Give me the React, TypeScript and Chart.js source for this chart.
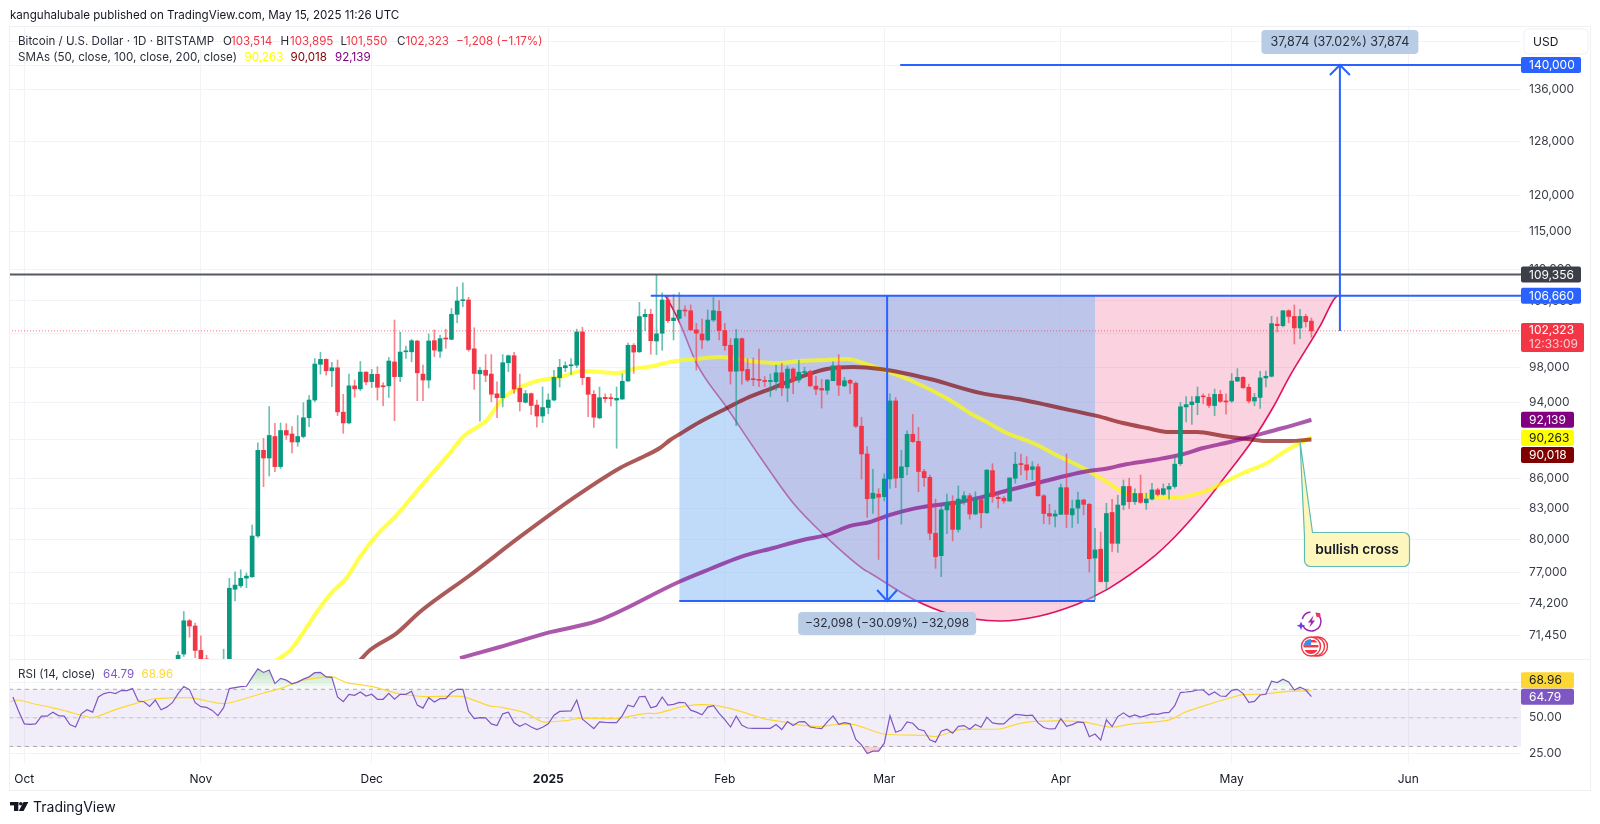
import React, { useEffect, useRef } from "react";
import { Chart, registerables } from "chart.js";

Chart.register(...registerables);

// days are counted from 1 Oct 2024, so a chart x of 92 is 1 Jan 2025
const firstCandleDay = 27;

const opens = [
	68000, 69900, 72700, 72250, 70200, 69500, 69100, 68000, 67800, 69350,
	75450, 75760, 76450, 76570, 80340, 88880, 88080, 90340, 87190, 90980,
	90610, 89760, 90340, 92360, 94310, 98370, 98940, 97620, 97970, 92970,
	91800, 95900, 95560, 97470, 96380, 97210, 95860, 95900, 98640, 96950,
	99830, 99830, 101100, 97240, 96560, 101150, 99900, 101390, 101310, 104340,
	106030, 106120, 100180, 97270, 97680, 97240, 95000, 94570, 98550, 99370,
	95620, 94060, 95020, 93750, 92550, 93480, 94310, 96830, 97970, 98200,
	98270, 102200, 96860, 94950, 92350, 94610, 94500, 94310, 94430, 96450,
	100600, 99830, 104060, 104340, 101110, 102040, 106120, 103560, 103850, 104860,
	104780, 102450, 101950, 101230, 103640, 104700, 102370, 100600, 97570, 101390,
	97770, 96640, 96560, 96440, 96400, 96370, 97390, 95660, 97820, 96560,
	97420, 97530, 95860, 95600, 95400, 96480, 98200, 95900, 96520, 96200,
	91440, 88500, 83980, 84400, 84150, 85930, 94210, 86060, 87170, 90580,
	89830, 86690, 86100, 80600, 78500, 82850, 83700, 80970, 83660, 84250,
	82450, 83860, 82570, 86780, 84090, 84000, 83730, 86000, 87440, 87370,
	86900, 87170, 84240, 82500, 82250, 82420, 85050, 82370, 83030, 83820,
	83400, 78280, 79100, 76140, 82600, 79650, 83330, 85170, 83660, 84470,
	83550, 83920, 84830, 84380, 84900, 85170, 87490, 93550, 93800, 94020,
	94700, 94600, 93700, 94950, 94200, 94200, 96440, 96870, 95740, 94200,
	94600, 96800, 96990, 103140, 102950, 104780, 104080, 102680, 104080, 103514,
];
const highs = [
	70100, 73500, 72820, 72500, 71420, 69800, 69300, 69000, 70300, 76430,
	77020, 77200, 76900, 81380, 89670, 90150, 93600, 91750, 91800, 91720,
	91400, 92600, 94020, 94820, 99040, 99780, 99000, 98600, 98870, 94950,
	97240, 96560, 98700, 97500, 97780, 98090, 96260, 99170, 103640, 102170,
	100500, 101300, 101200, 98270, 101950, 102450, 101830, 102530, 105060, 107760,
	108300, 106460, 102700, 98020, 99500, 99500, 96370, 99500, 99450, 99780,
	97240, 95390, 95100, 94310, 95770, 95000, 97680, 98950, 98660, 99040,
	102530, 102750, 96900, 95380, 95770, 95010, 95000, 95770, 97250, 100860,
	100800, 105830, 104970, 104970, 109300, 107000, 106580, 106800, 107060, 105400,
	105500, 103240, 103750, 104860, 106440, 106030, 103240, 101390, 102520, 101500,
	99020, 99100, 100150, 96950, 97240, 98270, 98470, 98140, 97950, 98870,
	98030, 97700, 96950, 96640, 96640, 98660, 99500, 96880, 96640, 96370,
	92420, 89270, 86900, 84950, 86440, 95000, 94600, 88890, 90940, 92730,
	91320, 86900, 86330, 83920, 83250, 84400, 84250, 85230, 84650, 84470,
	84650, 83900, 86900, 87490, 84440, 84160, 86050, 88680, 88500, 88220,
	87700, 87440, 84350, 83400, 82800, 85420, 88500, 83820, 84600, 83900,
	83500, 81080, 80720, 83500, 83900, 84300, 85830, 86000, 84930, 86330,
	84500, 85500, 85000, 85430, 85500, 88220, 94050, 94700, 94700, 95770,
	95000, 95000, 95530, 95400, 95000, 97300, 97870, 96950, 96100, 95050,
	97570, 97600, 104100, 104000, 104800, 104900, 105500, 104950, 104350, 103895,
];
const lows = [
	67600, 69700, 71300, 69600, 68800, 68000, 67500, 66800, 67500, 68800,
	74410, 75600, 75590, 76500, 80200, 85150, 86230, 86680, 87000, 90040,
	88600, 89300, 90200, 91400, 94120, 97240, 97130, 95800, 92600, 90680,
	91700, 94620, 95370, 96000, 95700, 94310, 93680, 94590, 92040, 96370,
	99040, 98660, 94240, 94240, 95660, 99260, 99180, 100250, 101250, 103310,
	105300, 99900, 95500, 92000, 96370, 94120, 92360, 93550, 97520, 95040,
	93090, 93980, 92690, 91350, 91840, 92800, 94200, 95770, 97530, 97200,
	97970, 96040, 92470, 91310, 92240, 94050, 93650, 89100, 94350, 96400,
	97320, 99750, 102350, 99550, 99500, 100000, 103320, 101230, 103700, 104100,
	102400, 97700, 100190, 101100, 103450, 101230, 100000, 96100, 91500, 96100,
	96370, 95920, 95820, 95820, 94690, 95380, 94810, 94130, 95010, 96300,
	97120, 95820, 94900, 93420, 94950, 96480, 94820, 95800, 95010, 91300,
	85930, 82130, 82500, 78150, 83730, 84970, 85050, 81460, 86330, 89700,
	84650, 85170, 79960, 77330, 76580, 80560, 79880, 80720, 83400, 81950,
	82370, 81120, 82500, 83600, 83030, 83500, 83680, 85500, 86330, 85830,
	85830, 84200, 81530, 81460, 81200, 82380, 81120, 81150, 81530, 82360,
	77000, 74500, 76100, 75370, 78900, 78800, 82860, 83000, 83400, 83500,
	82900, 83800, 84230, 84300, 83900, 85000, 87290, 91920, 91640, 92690,
	93900, 93500, 92600, 94040, 92750, 94050, 96370, 95600, 94000, 93680,
	93390, 95780, 96900, 102200, 102800, 103300, 100750, 101400, 102790, 101550,
];
const closes = [
	69800, 72700, 72250, 70200, 69500, 69100, 68000, 67800, 69350, 75540,
	75820, 76430, 76630, 80340, 88880, 88080, 90450, 87190, 90980, 90500,
	89760, 90340, 92360, 94310, 98400, 98940, 97620, 97970, 93000, 91800,
	95900, 95560, 97470, 96340, 97210, 95740, 95800, 98750, 96950, 99800,
	99900, 101140, 97390, 96560, 101110, 100030, 101390, 101350, 104340, 106000,
	106150, 100100, 97310, 97680, 97100, 94960, 94570, 98550, 99370, 95540,
	94120, 95020, 93710, 92550, 93480, 94310, 96870, 98020, 98200, 98270,
	102200, 96830, 94950, 92420, 94570, 94460, 94460, 94500, 96420, 100600,
	99800, 104060, 104340, 101150, 101970, 106120, 103560, 103890, 104860, 104750,
	102440, 102050, 101230, 103640, 104780, 102370, 100560, 97570, 101390, 97610,
	96560, 96600, 96530, 96400, 96450, 97390, 95660, 97820, 96480, 97450,
	97530, 95900, 95520, 95430, 96560, 98200, 95980, 96480, 96200, 91440,
	88500, 83950, 84500, 84100, 85930, 94210, 86000, 87170, 90580, 89800,
	86690, 86060, 80600, 78400, 82860, 83600, 80970, 83920, 84250, 82450,
	83960, 82570, 86830, 84160, 83960, 83730, 86030, 87440, 87400, 86830,
	87170, 84240, 82500, 82250, 82450, 85050, 82420, 82970, 83820, 83390,
	78220, 79030, 76140, 82500, 79650, 83330, 85170, 83660, 84470, 83600,
	83920, 84830, 84380, 84950, 85170, 87440, 93560, 93800, 94100, 94700,
	94660, 93720, 94950, 94160, 94100, 96440, 96870, 95690, 94200, 94600,
	96800, 96990, 103200, 102950, 104780, 104080, 102680, 104080, 103430, 102323,
];

const sma50Days = [
	44, 46.7, 48.9, 51.4, 53.7, 56.7, 58.9, 61.9, 65.4, 69.5, 74.7, 77, 81.2, 84.1, 87.6, 90, 94, 98.1, 104.1, 106.9, 110.4,
	113.4, 118.1, 122.2, 126.2, 132.1, 136.2, 140.9, 144.5, 146.7, 150.3, 155.5, 162.5, 166, 169, 172.5, 177.1, 181.9, 185.9,
	190.1, 192.9, 197.1, 201.7, 207, 210.5, 214, 218.2, 221.7, 226,
];
const sma50Values = [
	69300, 70230, 71650, 73480, 75010, 76550, 78370, 80440, 82360, 85110, 88590, 90290, 92116, 94540, 95900, 96450, 96900, 97600,
	97360, 97830, 98180, 98640, 98990, 99220, 98870, 98520, 98750, 98870, 98990, 98640, 97830, 96564, 94313, 92880, 91900,
	90720, 89650, 88190, 87050, 85620, 84630, 84230, 84030, 84630, 85520, 86540, 87570, 88910, 90263,
];
const sma100Days = [
	58.8, 60.7, 65.4, 69.5, 78.3, 87, 96.7, 104.6, 109.3, 111.6, 113.4, 115.1, 118.6, 123.4, 126.9, 131.5, 136.2, 140.9, 145.5,
	150.3, 159, 167.8, 175.4, 179.6, 183.6, 188.3, 192.9, 197.1, 200.7, 205.9, 210.5, 214.7, 218.2, 222.2, 226,
];
const sma100Values = [
	69300, 70230, 71650, 73480, 76730, 80250, 84130, 87050, 88390, 89120, 89969, 90610, 91900, 93430, 94540, 95680, 96900, 97830,
	98060, 97830, 96680, 95110, 94313, 93760, 93200, 92560, 91790, 91250, 90830, 90830, 90400, 90080, 89865, 89865, 90018,
];
const sma200Days = [
	76.5, 83.5, 92.5, 100.6, 114.9, 120.4, 125.7, 131.5, 136.7, 140.9, 145, 148.5, 152, 156, 160.3, 164.3, 168.3, 173,
	177.8, 181.3, 185.9, 190.6, 192.9, 198.2, 202.9, 207, 211.7, 216.4, 221, 226,
];
const sma200Values = [
	69570, 70480, 71746, 72680, 76100, 77275, 78370, 79215, 79962, 80440, 81300, 81680, 82360, 82950, 83330, 83630, 84130,
	84820, 85520, 86030, 86640, 87050, 87360, 87872, 88390, 89120, 89760, 90500, 91250, 92139,
];

const cupDays = [
	112.5, 112.8, 115.1, 118.1, 123.4, 129.2, 135, 140.6, 147.3, 148.5, 156, 162.5, 171.3, 178.3, 184.5, 187.6, 190.6,
	197.6, 202, 206.7, 210.4, 215.7, 219.2, 222.2, 227.5, 230, 230.6,
];
const cupValues = [
	106660, 106370, 103270, 98400, 93430, 88190, 83530, 80350, 77275, 76910, 74590, 73280, 72680, 73110, 74060, 74770,
	75570, 78100, 80250, 83130, 85820, 89970, 93430, 97010, 102890, 106240, 106660,
];

// 1 Oct minus 2 days up to the last session, 15 May
const rsiFirstDay = -2;
const rsiValues = [
	64.6, 54.7, 45.8, 45.5, 45.8, 51.2, 51.2, 54, 51.6, 51.2, 45.3, 43.6, 52.8, 55.7, 54, 64.6, 67, 67.9, 67, 69.1,
	69.1, 70.5, 61.8, 61.3, 58, 62.5, 55.7, 57.5, 60.6, 67, 71.9, 69.8, 60.6, 57.8, 57.3, 55.2, 51.6, 57.1, 70.5, 71.2,
	71.9, 72.1, 78.3, 84.4, 81.8, 83.5, 74, 77.6, 76.4, 73.8, 75, 77.1, 78.7, 81.6, 81.8, 78.7, 78.3, 64.6, 61.3, 66.5,
	65.8, 68.1, 65.3, 66.5, 63, 63, 67.2, 63, 66.5, 66.5, 68.6, 58.9, 56.8, 64.1, 61.1, 63.4, 63.4, 67.7, 70, 70,
	54.7, 49.5, 50.2, 50, 45.8, 44.6, 52.8, 54, 46.5, 44.1, 46, 43.6, 41.8, 43.4, 45.8, 51.9, 54.5, 54.7, 54.9, 62.5,
	49.1, 45.8, 42.5, 47.2, 46.9, 46.7, 46.7, 51.6, 58.9, 57.8, 64.8, 65.1, 57.1, 58.2, 64.6, 58.9, 59.4, 60.8, 60.6, 55.4,
	54, 52.1, 57.5, 58.5, 53.1, 48.8, 43.6, 51.2, 44.8, 42.9, 42.7, 42.7, 42.7, 42.7, 45.3, 41.8, 47.4, 44.6, 47.2, 47.4,
	43.6, 42.9, 42.5, 47.2, 51.4, 45.5, 46.7, 45.8, 34.9, 31.1, 25, 26.7, 26.7, 32.3, 51.4, 39.9, 41.5, 47.2, 46.2, 42,
	41, 34.7, 33, 40.6, 42, 39.2, 44.1, 44.6, 42, 45.3, 43.4, 50.5, 46.5, 45.8, 45.8, 49.5, 52.4, 52.1, 51.6, 51.9,
	46.5, 43.2, 42.2, 42.5, 49.5, 44.1, 45.3, 47.2, 46.7, 36.8, 38.7, 34.4, 48.6, 43.9, 50.9, 53.5, 50.7, 52.1, 50.5, 51.6,
	52.8, 52.4, 53.5, 53.8, 58.5, 67.7, 68.1, 68.6, 69.5, 69.5, 66, 68.1, 65.3, 65.1, 69.3, 70, 67, 60.8, 61.5, 66,
	66.5, 75.7, 74.7, 77.1, 75.2, 69.5, 71.4, 69.5, 64.79,
];
const rsiMaDays = [
	-2.5, -1, 1.6, 4.5, 7.4, 12, 15.6, 19, 22.6, 29, 34.4, 36.7, 42, 45.5, 48.4, 52.8, 54.3, 56.6, 61.3, 66, 70.7, 77, 81.8,
	83.6, 88, 91, 95.2, 97.6, 104, 107, 109.3, 111, 115.7, 118.6, 121, 125, 129.8, 133.8, 136, 139.7, 142, 145.6, 150.8, 158,
	160.2, 164.3, 171.3, 174.5, 177.6, 185.8, 190, 191.4, 194.5, 200.2, 202, 203.3, 206.4, 211.5, 214, 217.7, 221.5, 226,
];
const rsiMaValues = [
	61.3, 62.5, 59.9, 57.5, 54.7, 50.2, 55.2, 59.4, 63.2, 64.1, 60.1, 61.1, 67.4, 71.2, 75.9, 78.7, 78.5, 74.7, 71.7, 66.7,
	64.9, 64.9, 58.2, 57.5, 53.5, 47.2, 48.1, 49.8, 49.5, 51.6, 53.1, 53.1, 58, 59.2, 58.9, 55.4, 49.5, 46.9, 45.1, 43.9,
	45.1, 45.5, 38.7, 37.7, 37, 41.8, 42.2, 45.8, 47.6, 47.2, 43.9, 43.6, 45.8, 47.9, 50, 53.1, 57.5, 63.7, 66.2, 66.7, 68.4,
	68.96,
];

const priceTicks = [144000, 140000, 136000, 128000, 120000, 115000, 110000, 106000, 102000, 98000, 94000, 90000, 86000, 83000, 80000, 77000, 74200, 71450];
const rsiTicks = [25, 50, 75];
const monthDays = [0, 31, 61, 92, 123, 151, 182, 212, 243];
const monthLabels = ["Oct", "Nov", "Dec", "2025", "Feb", "Mar", "Apr", "May", "Jun"];

const lastClose = 102323;
const resistance = 109356;
const neckline = 106660;
const target = 140000;
const rangeLow = 74410;
const rangeStartDay = 115;
const rangeEndDay = 188;
const dropDay = 151.5;
const riseDay = 231;
const crossDay = 224;
const crossPrice = 90263;

const xMin = -2.69;
const xMax = 262.8;
const yMin = 69493;
const yMax = 146590;

const GREEN = "#089981";
const RED = "#f23645";
const BLUE = "#2962ff";
const FONT = "Inter";
const SMALL = `11.6px ${FONT}`;

const line = (xs: number[], ys: number[], yAxisID: string, extra: any) => ({
	type: "line",
	data: xs.map((x, k) => ({ x, y: ys[k] })),
	yAxisID,
	xAxisID: "x",
	pointRadius: 0,
	fill: false,
	...extra,
});

const text = (ctx: CanvasRenderingContext2D, s: string, x: number, y: number, color: string, font = `12px ${FONT}`, align: CanvasTextAlign = "left") => {
	ctx.font = font;
	ctx.fillStyle = color;
	ctx.textAlign = align;
	ctx.textBaseline = "middle";
	ctx.fillText(s, x, y);
};

const box = (ctx: CanvasRenderingContext2D, x: number, y: number, w: number, h: number, r: number, fill: string) => {
	ctx.beginPath();
	ctx.roundRect(x, y, w, h, r);
	ctx.fillStyle = fill;
	ctx.fill();
};

const overlay = {
	id: "overlay",
	afterDraw(chart: any) {
		const { ctx, scales } = chart;
		const { x, y, rsi } = scales;
		const right = chart.chartArea.right;
		ctx.save();

		// frame around both panes
		ctx.strokeStyle = "#eef0f4";
		ctx.lineWidth = 1;
		ctx.strokeRect(9.5, 26.5, 1581, 764);
		ctx.beginPath();
		ctx.moveTo(9, 659.5);
		ctx.lineTo(1590, 659.5);
		ctx.stroke();

		// header
		text(ctx, "kanguhalubale published on TradingView.com, May 15, 2025 11:26 UTC", 10, 15.5, "#131722", SMALL);
		const dark = "#2a2e39";
		const row1 = 42;
		const row2 = 58;
		text(ctx, "Bitcoin / U.S. Dollar · 1D · BITSTAMP", 18, row1, dark, SMALL);
		text(ctx, "O", 223, row1, dark, SMALL);
		text(ctx, "103,514", 231, row1, RED, SMALL);
		text(ctx, "H", 280.5, row1, dark, SMALL);
		text(ctx, "103,895", 290, row1, RED, SMALL);
		text(ctx, "L", 340.5, row1, dark, SMALL);
		text(ctx, "101,550", 346, row1, RED, SMALL);
		text(ctx, "C", 397, row1, dark, SMALL);
		text(ctx, "102,323", 405.5, row1, RED, SMALL);
		text(ctx, "−1,208 (−1.17%)", 456, row1, RED, SMALL);
		text(ctx, "SMAs (50, close, 100, close, 200, close)", 18, row2, dark, SMALL);
		text(ctx, "90,263", 244.5, row2, "#ffff00", SMALL);
		text(ctx, "90,018", 290.5, row2, "#800000", SMALL);
		text(ctx, "92,139", 335, row2, "#800080", SMALL);
		text(ctx, "RSI (14, close)", 18, 674.5, dark, SMALL);
		text(ctx, "64.79", 103, 674.5, "#7e57c2", SMALL);
		text(ctx, "68.96", 141.5, 674.5, "#fdd835", SMALL);

		// USD button
		box(ctx, 1524, 29, 64, 25, 4, "#ffffff");
		ctx.strokeStyle = "#f0f1f4";
		ctx.stroke();
		text(ctx, "USD", 1533, 42, "#131722");

		// measure labels
		const upX = x.getPixelForValue(riseDay);
		const upY = y.getPixelForValue(target) - 35;
		box(ctx, upX - 78.5, upY, 157, 24, 4, "#b9cce6");
		text(ctx, "37,874 (37.02%) 37,874", upX, upY + 12, dark, `12.6px ${FONT}`, "center");
		const cx = x.getPixelForValue(dropDay);
		const ly = y.getPixelForValue(rangeLow) + 11;
		box(ctx, cx - 89, ly, 178, 23, 4, "#b9cce6");
		text(ctx, "−32,098 (−30.09%) −32,098", cx, ly + 11.5, dark, `12px ${FONT}`, "center");

		// axis tags
		const tag = (scale: any, value: number, label: string, bg: string, fg: string, w: number, shift = 0) => {
			const py = scale.getPixelForValue(value) + shift;
			box(ctx, right, py - 8, w, 16, 2, bg);
			text(ctx, label, right + 8, py + 0.5, fg);
		};
		tag(y, target, "140,000", BLUE, "#ffffff", 60);
		tag(y, resistance, "109,356", "#3c3f48", "#ffffff", 60);
		tag(y, neckline, "106,660", BLUE, "#ffffff", 60);
		const lastY = y.getPixelForValue(lastClose);
		box(ctx, right, lastY - 8, 63, 29, 2, RED);
		text(ctx, "102,323", right + 8, lastY, "#ffffff");
		text(ctx, "12:33:09", right + 8, lastY + 13.5, "rgba(255,255,255,0.75)");
		tag(y, 92139, "92,139", "#800080", "#ffffff", 53);
		tag(y, 90263, "90,263", "#ffff00", "#131722", 53, 0.8);
		tag(y, 90018, "90,018", "#800000", "#ffffff", 53, 15.5);
		tag(rsi, 68.96, "68.96", "#fdd835", "#131722", 53, -10.5);
		tag(rsi, 64.79, "64.79", "#7e57c2", "#ffffff", 53);

		// bullish cross note
		const tipX = x.getPixelForValue(crossDay);
		const tipY = y.getPixelForValue(crossPrice) + 4;
		const nl = 1304.5;
		const nt = 532.5;
		const nw = 105;
		const nh = 34;
		ctx.beginPath();
		ctx.moveTo(tipX, tipY);
		ctx.lineTo(nl + 8, nt);
		ctx.lineTo(nl + nw - 6, nt);
		ctx.arcTo(nl + nw, nt, nl + nw, nt + 6, 6);
		ctx.lineTo(nl + nw, nt + nh - 6);
		ctx.arcTo(nl + nw, nt + nh, nl + nw - 6, nt + nh, 6);
		ctx.lineTo(nl + 6, nt + nh);
		ctx.arcTo(nl, nt + nh, nl, nt + nh - 6, 6);
		ctx.lineTo(nl, nt + 4);
		ctx.closePath();
		ctx.fillStyle = "#fdf7bd";
		ctx.fill();
		ctx.strokeStyle = "#5dbdb0";
		ctx.lineWidth = 1.2;
		ctx.stroke();
		text(ctx, "bullish cross", nl + 52.5, nt + 17, "#131722", `600 13.7px ${FONT}`, "center");

		// event icons
		ctx.strokeStyle = "#9c27b0";
		ctx.lineWidth = 1.5;
		ctx.beginPath();
		ctx.arc(1311.5, 621.5, 9.5, -1.1, 2.7);
		ctx.stroke();
		ctx.beginPath();
		ctx.arc(1311.5, 621.5, 9.5, 3.4, 4.6);
		ctx.stroke();
		ctx.fillStyle = "#9c27b0";
		ctx.beginPath();
		ctx.moveTo(1313.5, 615.5);
		ctx.lineTo(1308, 622.5);
		ctx.lineTo(1311, 622.5);
		ctx.lineTo(1309.5, 627.5);
		ctx.lineTo(1315, 620.5);
		ctx.lineTo(1312, 620.5);
		ctx.closePath();
		ctx.fill();
		ctx.fillStyle = RED;
		ctx.beginPath();
		ctx.arc(1318.3, 615, 2.3, 0, Math.PI * 2);
		ctx.fill();
		ctx.fillStyle = "#6a3de8";
		ctx.beginPath();
		ctx.moveTo(1301, 621.5);
		ctx.lineTo(1302.2, 624.5);
		ctx.lineTo(1305.2, 625.7);
		ctx.lineTo(1302.2, 626.9);
		ctx.lineTo(1301, 630);
		ctx.lineTo(1299.8, 626.9);
		ctx.lineTo(1296.8, 625.7);
		ctx.lineTo(1299.8, 624.5);
		ctx.closePath();
		ctx.fill();
		[1318, 1315, 1311].forEach((cxi) => {
			ctx.beginPath();
			ctx.arc(cxi, 646.5, 9.5, 0, Math.PI * 2);
			ctx.fillStyle = "#ffffff";
			ctx.fill();
			ctx.strokeStyle = RED;
			ctx.lineWidth = 1.4;
			ctx.stroke();
		});
		ctx.save();
		ctx.beginPath();
		ctx.arc(1311, 646.5, 7.5, 0, Math.PI * 2);
		ctx.clip();
		ctx.fillStyle = RED;
		ctx.fillRect(1303, 640, 16, 2.4);
		ctx.fillRect(1303, 645, 16, 2.4);
		ctx.fillRect(1303, 650, 16, 4);
		ctx.fillStyle = "#3f8fe8";
		ctx.fillRect(1303, 639, 8, 7);
		ctx.restore();

		// footer logo
		ctx.fillStyle = "#131722";
		ctx.fillRect(10, 802, 8.3, 3.4);
		ctx.fillRect(14, 802, 4.3, 9);
		ctx.beginPath();
		ctx.arc(20.8, 803.8, 1.8, 0, Math.PI * 2);
		ctx.fill();
		ctx.beginPath();
		ctx.moveTo(23.5, 802);
		ctx.lineTo(28.4, 802);
		ctx.lineTo(23.6, 811);
		ctx.lineTo(18.8, 811);
		ctx.closePath();
		ctx.fill();
		text(ctx, "TradingView", 33, 808, "#131722", `14px ${FONT}`);

		ctx.restore();
	},
};

const App = () => {
	const canvasRef = useRef<HTMLCanvasElement>(null);

	useEffect(() => {
		if (!canvasRef.current) return;
		const ctx = canvasRef.current.getContext("2d");
		if (!ctx) return;

		const candleDays = opens.map((_, k) => firstCandleDay + k);
		const upColor = (k: number, up: string, down: string) => (closes[k] >= opens[k] ? up : down);
		const rsiDays = rsiValues.map((_, k) => rsiFirstDay + k);

		const overbought = ctx.createLinearGradient(0, 668, 0, 690);
		overbought.addColorStop(0, "rgba(76,175,80,0.38)");
		overbought.addColorStop(1, "rgba(76,175,80,0.02)");

		const chart = new Chart(ctx, {
			type: "line",
			data: {
				datasets: [
					line(cupDays, cupValues, "y", {
						borderColor: "#e0125f",
						borderWidth: 1.6,
						cubicInterpolationMode: "monotone",
						fill: { value: neckline },
						backgroundColor: "rgba(233,30,99,0.2)",
						order: 20,
					}),
					line([rangeStartDay, rangeEndDay], [neckline, neckline], "y", {
						borderWidth: 0,
						fill: { value: rangeLow },
						backgroundColor: "rgba(136,187,245,0.53)",
						order: 19,
					}),
					line([rangeStartDay, rangeEndDay], [rangeLow, rangeLow], "y", { borderColor: BLUE, borderWidth: 2, order: 18 }),
					line(sma50Days, sma50Values, "y", { borderColor: "rgba(255,255,0,0.7)", borderWidth: 4, cubicInterpolationMode: "monotone", order: 17 }),
					line(sma100Days, sma100Values, "y", { borderColor: "rgba(128,0,0,0.65)", borderWidth: 4, cubicInterpolationMode: "monotone", order: 16 }),
					line(sma200Days, sma200Values, "y", { borderColor: "rgba(128,0,128,0.65)", borderWidth: 4, cubicInterpolationMode: "monotone", order: 15 }),
					{
						type: "bar",
						data: candleDays.map((x, k) => ({ x, y: [lows[k], highs[k]] })),
						backgroundColor: candleDays.map((_, k) => upColor(k, "rgba(8,153,129,0.6)", "rgba(242,54,69,0.6)")),
						barThickness: 1,
						grouped: false,
						yAxisID: "y",
						xAxisID: "x",
						order: 14,
					},
					{
						type: "bar",
						data: candleDays.map((x, k) => ({ x, y: [opens[k], closes[k]] })),
						backgroundColor: candleDays.map((_, k) => upColor(k, GREEN, RED)),
						barThickness: 4,
						minBarLength: 1,
						grouped: false,
						yAxisID: "y",
						xAxisID: "x",
						order: 13,
					},
					line([xMin, xMax], [lastClose, lastClose], "y", { borderColor: "rgba(242,54,69,0.7)", borderWidth: 1, borderDash: [1, 2], order: 12 }),
					line([xMin, xMax], [resistance, resistance], "y", { borderColor: "#555a60", borderWidth: 2, order: 11 }),
					line([110, xMax], [neckline, neckline], "y", { borderColor: BLUE, borderWidth: 2, order: 10 }),
					line([153.8, xMax], [target, target], "y", { borderColor: BLUE, borderWidth: 2, order: 9 }),
					line([dropDay, dropDay], [neckline, rangeLow], "y", { borderColor: BLUE, borderWidth: 2, order: 8 }),
					line([dropDay - 1.75, dropDay, dropDay + 1.75], [75380, rangeLow, 75380], "y", { borderColor: BLUE, borderWidth: 2, order: 8 }),
					line([riseDay, riseDay], [lastClose, target], "y", { borderColor: BLUE, borderWidth: 2, order: 8 }),
					line([riseDay - 1.75, riseDay, riseDay + 1.75], [138360, target, 138360], "y", { borderColor: BLUE, borderWidth: 2, order: 8 }),

					line([xMin, xMax], [70, 70], "rsi", {
						borderColor: "#a9acb4",
						borderWidth: 1,
						borderDash: [4, 4],
						fill: { value: 30 },
						backgroundColor: "rgba(126,87,194,0.1)",
						order: 7,
					}),
					line([xMin, xMax], [50, 50], "rsi", { borderColor: "#c4c6cc", borderWidth: 1, borderDash: [4, 4], order: 6 }),
					line([xMin, xMax], [30, 30], "rsi", { borderColor: "#a9acb4", borderWidth: 1, borderDash: [4, 4], order: 6 }),
					line(rsiDays, rsiValues, "rsi", {
						borderWidth: 0,
						fill: { target: { value: 70 }, above: overbought, below: "transparent" },
						order: 5,
					}),
					line(rsiDays, rsiValues, "rsi", {
						borderWidth: 0,
						fill: { target: { value: 30 }, above: "transparent", below: "rgba(242,54,69,0.25)" },
						order: 5,
					}),
					line(rsiMaDays, rsiMaValues, "rsi", { borderColor: "#fdd835", borderWidth: 1.2, tension: 0.2, order: 4 }),
					line(rsiDays, rsiValues, "rsi", { borderColor: "#7e57c2", borderWidth: 1.2, order: 3 }),
				] as any,
			},
			options: {
				responsive: false,
				animation: false,
				devicePixelRatio: 1,
				events: [],
				layout: { padding: { left: 9, right: 10, top: 26, bottom: 34 } },
				plugins: { legend: { display: false }, tooltip: { enabled: false } },
				scales: {
					x: {
						type: "linear",
						position: "bottom",
						min: xMin,
						max: xMax,
						bounds: "data",
						offset: false,
						grid: { offset: false, color: "#f2f3f6", drawTicks: false },
						border: { display: false },
						afterBuildTicks: (scale: any) => {
							scale.ticks = monthDays.map((value) => ({ value }));
						},
						afterFit: (scale: any) => {
							scale.height = 27;
						},
						ticks: {
							autoSkip: false,
							maxRotation: 0,
							padding: 9,
							color: "#131722",
							font: (c: any) => ({ family: FONT, size: 12, weight: c.tick && c.tick.value === 92 ? "700" : "400" }),
							callback: (v: any) => monthLabels[monthDays.indexOf(v)] ?? "",
						},
					},
					y: {
						type: "logarithmic",
						position: "right",
						stack: "panes",
						stackWeight: 633,
						min: yMin,
						max: yMax,
						bounds: "data",
						grid: { color: "#f2f3f6", drawTicks: false },
						border: { display: false },
						afterBuildTicks: (scale: any) => {
							scale.ticks = priceTicks.map((value) => ({ value }));
						},
						afterFit: (scale: any) => {
							scale.width = 69;
						},
						ticks: {
							autoSkip: false,
							padding: 8,
							color: "#3a3e48",
							font: { family: FONT, size: 12 },
							callback: (v: any) => Number(v).toLocaleString("en-US"),
						},
					},
					rsi: {
						type: "linear",
						position: "right",
						stack: "panes",
						stackWeight: 104,
						min: 18.4,
						max: 91.2,
						bounds: "data",
						grid: { color: "#f2f3f6", drawTicks: false },
						border: { display: false },
						afterBuildTicks: (scale: any) => {
							scale.ticks = rsiTicks.map((value) => ({ value }));
						},
						afterFit: (scale: any) => {
							scale.width = 69;
						},
						ticks: {
							autoSkip: false,
							padding: 8,
							color: "#3a3e48",
							font: { family: FONT, size: 12 },
							callback: (v: any) => Number(v).toFixed(2),
						},
					},
				},
			} as any,
			plugins: [overlay],
		});

		return () => {
			chart.destroy();
		};
	}, []);

	return <canvas ref={canvasRef} width={1600} height={824} style={{ position: "absolute", left: 0, top: 0 }} />;
};

export default App;
